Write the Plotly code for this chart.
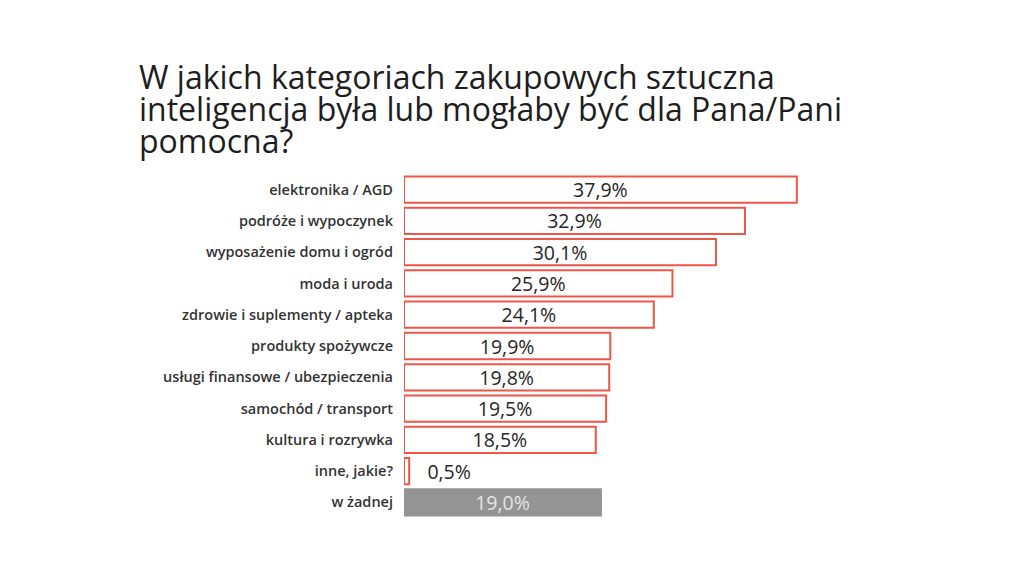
import plotly.graph_objects as go

categories = [
    "elektronika / AGD",
    "podróże i wypoczynek",
    "wyposażenie domu i ogród",
    "moda i uroda",
    "zdrowie i suplementy / apteka",
    "produkty spożywcze",
    "usługi finansowe / ubezpieczenia",
    "samochód / transport",
    "kultura i rozrywka",
    "inne, jakie?",
    "w żadnej",
]
values = [37.9, 32.9, 30.1, 25.9, 24.1, 19.9, 19.8, 19.5, 18.5, 0.5, 19.0]
labels = [f"{v:.1f}%".replace(".", ",") for v in values]

title_lines = [
    "W jakich kategoriach zakupowych sztuczna",
    "inteligencja była lub mogłaby być dla Pana/Pani",
    "pomocna?",
]

ORANGE_RED = "#EE5648"
GRAY = "#949494"

is_none = [c == "w żadnej" for c in categories]
fill_colors = [GRAY if n else "white" for n in is_none]
line_colors = [GRAY if n else ORANGE_RED for n in is_none]
text_colors = ["#E4E4E4" if n else "#262626" for n in is_none]
text_pos = ["outside" if v < 2 else "inside" for v in values]
shown_text = [("\u00a0\u00a0\u00a0" + t) if p == "outside" else t for t, p in zip(labels, text_pos)]

fig = go.Figure(
    go.Bar(
        x=values,
        y=categories,
        orientation="h",
        width=0.84,
        marker=dict(color=fill_colors, line=dict(color=line_colors, width=2)),
        text=shown_text,
        textposition=text_pos,
        insidetextanchor="middle",
        constraintext="none",
        cliponaxis=False,
        textfont=dict(family="Open Sans", size=19.5, color=text_colors),
        outsidetextfont=dict(family="Open Sans", size=19.5, color="#262626"),
        hoverinfo="skip",
    )
)

# title lines as annotations (paper coords relative to plot area t=174, h=344)
TOP, H = 174, 344
title_mid_px = [77, 108, 140]
for line, py in zip(title_lines, title_mid_px):
    fig.add_annotation(
        text=line,
        xref="paper", yref="paper",
        x=(137 - 404) / (1024 - 404 - 24),
        y=1 + (TOP - py) / H,
        xanchor="left", yanchor="middle",
        showarrow=False,
        font=dict(family="Open Sans", size=32, color="#1E1E1E"),
    )

fig.update_layout(
    width=1024,
    height=576,
    paper_bgcolor="white",
    plot_bgcolor="white",
    margin=dict(l=404, r=24, t=TOP, b=58),
    showlegend=False,
    xaxis=dict(range=[0, 57.5], visible=False, fixedrange=True),
    yaxis=dict(
        categoryorder="array",
        categoryarray=categories,
        autorange="reversed",
        showgrid=False,
        zeroline=False,
        showline=False,
        ticks="",
        ticklabelstandoff=10,
        tickfont=dict(family="Open Sans", size=14.5, color="#333333", weight=600),
    ),
)

fig.write_html("out.html")
